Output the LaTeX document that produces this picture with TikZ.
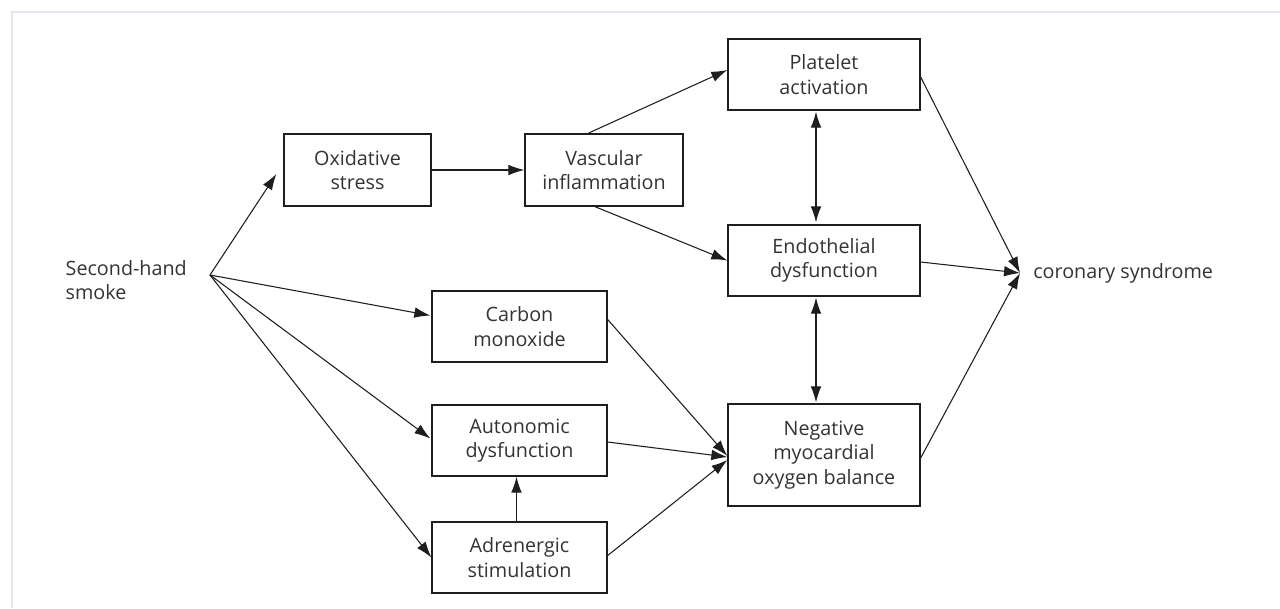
\documentclass[tikz,border=0pt]{standalone}
\usepackage{fontspec}
\setmainfont{Open Sans}
\usetikzlibrary{arrows.meta}
\definecolor{txt}{HTML}{333333}
\definecolor{ln}{HTML}{1E1E1E}
\definecolor{frame}{HTML}{E3E6F2}
\tikzset{
  box/.style={draw=ln, line width=1pt, inner sep=0pt, align=center, text=txt,
    font=\fontsize{14.8}{18.5}\selectfont, minimum height=53.25pt},
  arr/.style={draw=ln, line width=0.8pt, -{Latex[length=12pt,width=8pt]}},
  darr/.style={draw=ln, line width=0.8pt, {Latex[length=12pt,width=8pt]}-{Latex[length=12pt,width=8pt]}},
  lbl/.style={inner sep=0pt, text=txt, font=\fontsize{14.8}{18.5}\selectfont}
}
\begin{document}
\begin{tikzpicture}[x=0.75pt, y=-0.75pt]
\useasboundingbox (0,0) rectangle (1280,608);
\fill[white] (0,0) rectangle (1280,608);
\draw[frame, line width=2.2pt] (12,608) -- (12,12) -- (1280,12);

% nodes
\node[box, minimum width=110.25pt, minimum height=54pt] (oxi) at (357.5,170) {Oxidative\\stress};
\node[box, minimum width=118.5pt, minimum height=54pt] (vasc) at (604,170) {Vascular\\inflammation};
\node[box, minimum width=144pt] (plat) at (824,74.5) {Platelet\\activation};
\node[box, minimum width=144pt] (endo) at (824,260.5) {Endothelial\\dysfunction};
\node[box, minimum width=144pt, minimum height=76.5pt] (neg) at (824,455) {Negative\\myocardial\\oxygen balance};
\node[box, minimum width=131.25pt] (carb) at (519.5,326.5) {Carbon\\monoxide};
\node[box, minimum width=131.25pt] (auto) at (519.5,440.5) {Autonomic\\dysfunction};
\node[box, minimum width=131.25pt] (adr) at (519.5,557.5) {Adrenergic\\stimulation};

\node[lbl, align=left, anchor=east] (smoke) at (187,280) {Second-hand\\smoke};
\coordinate (src) at (210,275);
\node[lbl, anchor=west] (cs) at (1033,273) {coronary syndrome};
\coordinate (cor) at (1020,273);

% connectors from smoke
\draw[arr] (src) -- ([shift={(-7,4)}]oxi.west);
\draw[arr] (src) -- ([shift={(-1,-11)}]carb.west);
\draw[arr] (src) -- ([shift={(-1,-2)}]auto.west);
\draw[arr] (src) -- (adr.west);

\draw[arr] (oxi.east) -- (vasc.west);
\draw[arr] ([shift={(-16,0)}]vasc.north) -- ([shift={(0,-4.5)}]plat.west);
\draw[arr] ([shift={(-9,0)}]vasc.south) -- (endo.west);

\draw[darr] ([shift={(-8,1)}]plat.south) -- ([shift={(-8,-2)}]endo.north);
\draw[darr] ([shift={(-8,1)}]endo.south) -- ([shift={(-8,-1)}]neg.north);

\draw[arr] ([shift={(0,-7)}]carb.east) -- ([shift={(0,1)}]neg.west);
\draw[arr] ([shift={(0,1.5)}]auto.east) -- ([shift={(0,2)}]neg.west);
\draw[arr] ([shift={(0,-2)}]adr.east) -- ([shift={(0,5)}]neg.west);
\draw[arr] ([shift={(-3,0)}]adr.north) -- ([shift={(-3,0)}]auto.south);

\draw[arr] ([shift={(0,2.5)}]plat.east) -- (cor);
\draw[arr] ([shift={(0,1.5)}]endo.east) -- (cor);
\draw[arr] ([shift={(0,3)}]neg.east) -- (cor);
\end{tikzpicture}
\end{document}
